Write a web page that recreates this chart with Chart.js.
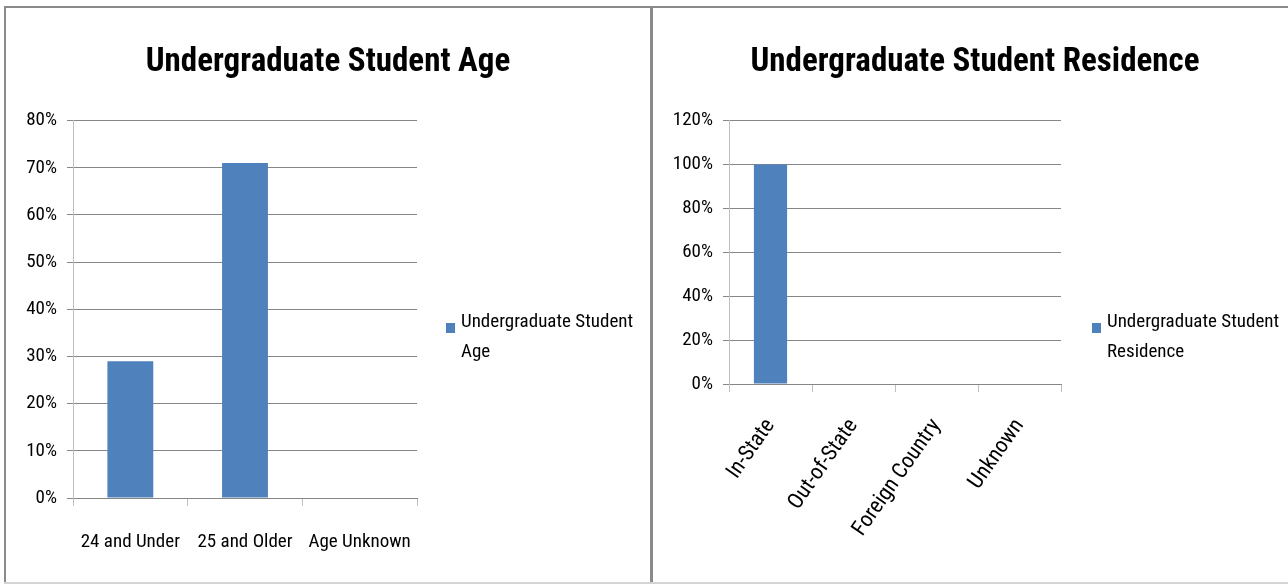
<!DOCTYPE html>
<html>
<head>
<meta charset="utf-8">
<script src="https://cdn.jsdelivr.net/npm/chart.js@4"></script>
<style>
  html, body { margin:0; padding:0; background:#fff; overflow:hidden; width:1288px; height:584px; }
  .frame { position:absolute; }
  .cv { position:absolute; }
  .legend { position:absolute; font-family:Roboto,sans-serif; font-stretch:condensed; font-size:19px; line-height:30px; color:#000; }
  .legend .sw { position:absolute; left:0; top:17px; width:9px; height:10px; }
  .legend .tx { position:absolute; left:15px; top:0; width:180px; }
</style>
</head>
<body>
<div class="frame" style="left:4px;top:6px;width:1290px;height:2px;background:#8a8a8a"></div>
<div class="frame" style="left:4px;top:6px;width:2px;height:578px;background:#8a8a8a"></div>
<div class="frame" style="left:650px;top:6px;width:3px;height:578px;background:#8a8a8a"></div>
<div class="frame" style="left:4px;top:582px;width:1290px;height:2px;background:#d4d4d4"></div>

<canvas id="c1" class="cv" style="left:6px;top:8px;width:644px;height:575px" width="644" height="575"></canvas>
<canvas id="c2" class="cv" style="left:653px;top:8px;width:644px;height:575px" width="644" height="575"></canvas>
<div id="lg1" class="legend" style="left:446px;top:306px"></div>
<div id="lg2" class="legend" style="left:1092px;top:306px"></div>

<script>
// ---- data ----
const ageCategories = ["24 and Under", "25 and Older", "Age Unknown"];
const ageValues = [0.29, 0.71, 0];
const ageTitle = "Undergraduate Student Age";
const ageSeries = "Undergraduate Student Age";
const ageTicks = { min: 0, max: 0.8, step: 0.1 };

const resCategories = ["In-State", "Out-of-State", "Foreign Country", "Unknown"];
const resValues = [1.0, 0, 0, 0];
const resTitle = "Undergraduate Student Residence";
const resSeries = "Undergraduate Student Residence";
const resTicks = { min: 0, max: 1.2, step: 0.2 };

const BAR = "#4F81BD";
const FONT = 'Roboto, sans-serif';

function makeChart(id, legendId, cats, vals, title, series, tk, opts) {
  const chart = new Chart(document.getElementById(id), {
    type: 'bar',
    data: { labels: cats, datasets: [{ label: series, data: vals, backgroundColor: BAR, borderWidth: 0, barPercentage: 1, categoryPercentage: 0.4 }] },
    options: {
      responsive: false, animation: false, devicePixelRatio: 1,
      layout: { padding: 0 },
      plugins: {
        legend: { display: false },
        tooltip: { enabled: false },
        title: { display: true, text: title, color: '#000', font: { family: FONT, size: 33, weight: 'bold condensed' }, padding: { top: 35, bottom: 38 } }
      },
      scales: {
        x: {
          offset: true,
          grid: { display: true, offset: true, drawOnChartArea: false, drawTicks: true, tickLength: 8, color: '#bfbfbf' },
          border: { display: true, color: '#868686', width: 1 },
          ticks: { color: '#000', font: { family: FONT, size: opts.xFont, weight: 'condensed' }, padding: opts.xPad, maxRotation: opts.rot, minRotation: opts.rot, autoSkip: false },
          afterFit: s => { s.height = opts.xH; }
        },
        y: {
          min: tk.min, max: tk.max,
          grid: { color: '#868686', tickLength: 6, drawTicks: true },
          border: { display: true, color: '#bfbfbf', width: 1 },
          ticks: { stepSize: tk.step, color: '#000', font: { family: FONT, size: 19, weight: 'condensed' }, padding: 10,
                   callback: v => Math.round(v * 100) + '%' },
          afterFit: s => { s.width = opts.yW; }
        },
        yRight: {
          position: 'right', display: true,
          grid: { display: false }, border: { display: false }, ticks: { display: false },
          afterFit: s => { s.width = opts.rW; }
        }
      }
    }
  });
  const ds = chart.data.datasets[0];
  document.getElementById(legendId).innerHTML =
    '<div class="sw" style="background:' + ds.backgroundColor + '"></div><div class="tx">' + ds.label + '</div>';
  return chart;
}

makeChart('c1', 'lg1', ageCategories, ageValues, ageTitle, ageSeries, ageTicks,
  { xFont: 19, xPad: 25, rot: 0, xH: 85, yW: 67, rW: 233 });
makeChart('c2', 'lg2', resCategories, resValues, resTitle, resSeries, resTicks,
  { xFont: 22, xPad: 22, rot: 55, xH: 199, yW: 76, rW: 236 });
</script>
</body>
</html>
